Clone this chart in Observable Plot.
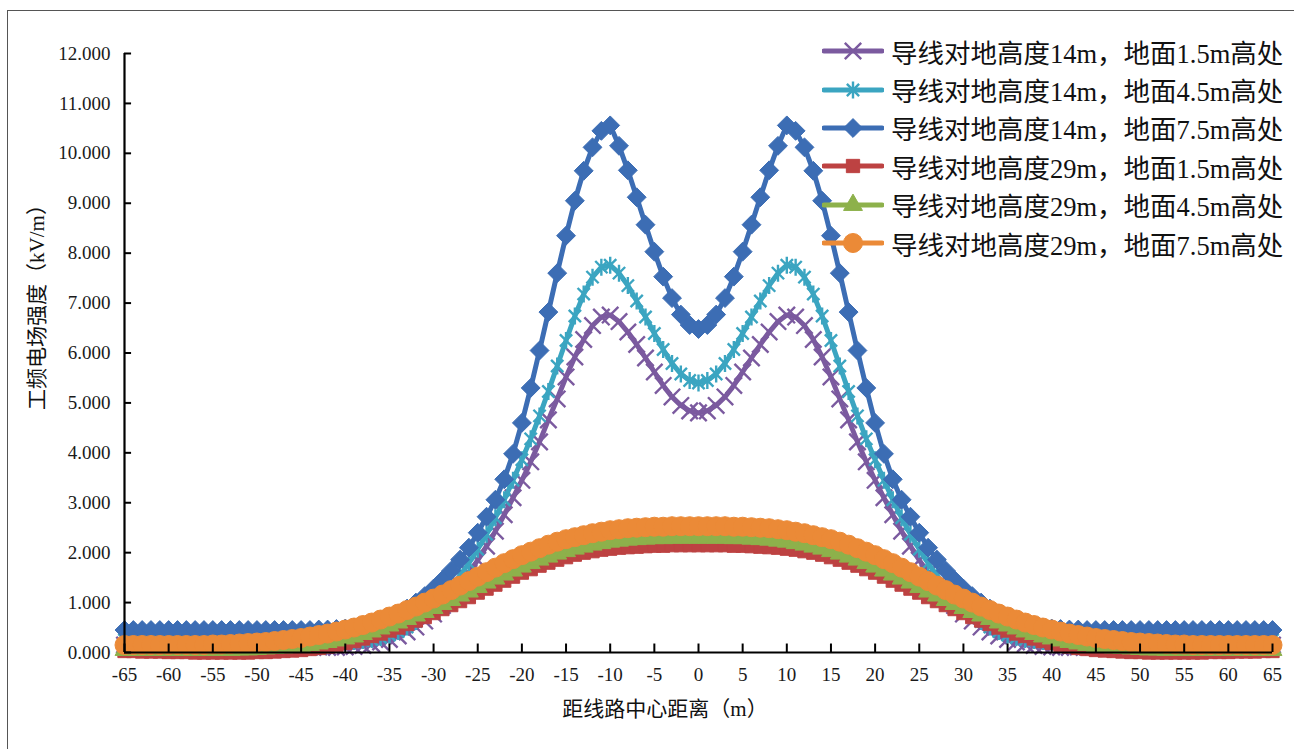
<!DOCTYPE html>
<html><head><meta charset="utf-8">
<script src="https://cdn.jsdelivr.net/npm/d3@7"></script>
<script src="https://cdn.jsdelivr.net/npm/@observablehq/plot@0.6"></script>
<style>
html,body{margin:0;padding:0;background:#fff;overflow:hidden}
#wrap{position:relative;width:1294px;height:749px;overflow:hidden}
#frame{position:absolute;left:7px;top:10px;width:1300px;height:760px;border-left:1.5px solid #555;border-top:1.5px solid #555}
#chart{position:absolute;left:0;top:0}
.ttl{position:absolute;font-family:"Liberation Serif","Noto Sans CJK SC",serif;font-size:21px;color:#111;white-space:nowrap;line-height:1}
#xt{left:665px;top:699px;transform:translateX(-50%)}
#yt{left:37px;top:302px;transform:translate(-50%,-50%) rotate(-90deg)}
#legend{position:absolute;left:822px;top:32px;font-family:"Liberation Serif","Noto Sans CJK SC",serif;font-size:26.5px;color:#111}
.row{height:38.4px;display:flex;align-items:center;white-space:nowrap}
.row svg{margin-right:7px;flex:none}
</style></head><body>
<div id="wrap"><div id="frame"></div><div id="chart"></div>
<div class="ttl" id="xt">距线路中心距离（m）</div>
<div class="ttl" id="yt">工频电场强度（kV/m）</div>
<div id="legend"></div></div>
<script>
// distance from line centre (m)
const xValues = d3.range(-65, 66);
const xTicks = [-65,-60,-55,-50,-45,-40,-35,-30,-25,-20,-15,-10,-5,0,5,10,15,20,25,30,35,40,45,50,55,60,65];
const yTicks = [0,1,2,3,4,5,6,7,8,9,10,11,12];
const seriesNames = [
  "导线对地高度14m，地面1.5m高处",
  "导线对地高度14m，地面4.5m高处",
  "导线对地高度14m，地面7.5m高处",
  "导线对地高度29m，地面1.5m高处",
  "导线对地高度29m，地面4.5m高处",
  "导线对地高度29m，地面7.5m高处"
];
// 14m, 1.5m
const h14_15 = [0.15,0.15,0.15,0.15,0.15,0.15,0.15,0.15,0.15,0.14,0.14,0.14,0.14,0.14,0.13,0.13,0.13,0.13,0.12,0.12,0.12,0.11,0.11,0.10,0.10,
0.11,0.12,0.14,0.17,0.21,0.26,0.33,0.41,0.51,0.63,0.77,0.94,1.13,1.35,1.59,1.85,2.13,2.43,2.76,3.10,3.45,3.82,4.22,4.66,5.08,5.52,5.92,6.27,6.55,6.72,6.76,6.63,6.42,6.17,5.90,5.62,5.35,5.12,4.95,4.84,
4.80,4.84,4.95,5.12,5.35,5.62,5.90,6.17,6.42,6.63,6.76,6.72,6.55,6.27,5.92,5.52,5.08,4.66,4.22,3.82,3.45,3.10,2.76,2.43,2.13,1.85,1.59,1.35,1.13,0.94,0.77,0.63,0.51,0.41,0.33,0.26,0.21,0.17,0.14,0.12,0.11,0.10,0.10,0.11,0.11,0.12,0.12,0.12,0.13,0.13,0.13,0.13,0.14,0.14,0.14,0.14,0.14,0.15,0.15,0.15,0.15,0.15,0.15,0.15,0.15,0.15];
// 14m, 4.5m
const h14_45 = [0.25,0.25,0.25,0.25,0.25,0.25,0.25,0.24,0.24,0.24,0.24,0.24,0.24,0.23,0.23,0.23,0.23,0.23,0.22,0.22,0.22,0.22,0.21,0.21,0.21,0.21,
0.22,0.24,0.26,0.30,0.35,0.42,0.51,0.62,0.76,0.92,1.10,1.31,1.54,1.79,2.07,2.37,2.70,3.06,3.45,3.86,4.28,4.74,5.23,5.74,6.25,6.74,7.18,7.52,7.72,7.76,7.60,7.35,7.04,6.72,6.39,6.07,5.79,5.58,5.45,
5.40,5.45,5.58,5.79,6.07,6.39,6.72,7.04,7.35,7.60,7.76,7.72,7.52,7.18,6.74,6.25,5.74,5.23,4.74,4.28,3.86,3.45,3.06,2.70,2.37,2.07,1.79,1.54,1.31,1.10,0.92,0.76,0.62,0.51,0.42,0.35,0.30,0.26,0.24,0.22,0.21,0.21,0.21,0.21,0.22,0.22,0.22,0.22,0.23,0.23,0.23,0.23,0.23,0.24,0.24,0.24,0.24,0.24,0.24,0.25,0.25,0.25,0.25,0.25,0.25,0.25];
// 14m, 7.5m
const h14_75 = [0.45,0.45,0.45,0.45,0.45,0.45,0.45,0.45,0.45,0.45,0.45,0.45,0.45,0.45,0.45,0.45,0.45,0.45,0.45,0.45,0.45,0.45,0.46,0.46,0.47,0.48,
0.50,0.53,0.58,0.63,0.70,0.78,0.88,1.00,1.13,1.28,1.45,1.64,1.86,2.10,2.40,2.72,3.06,3.47,3.98,4.60,5.30,6.05,6.82,7.60,8.35,9.05,9.65,10.12,10.45,10.56,10.15,9.66,9.12,8.57,8.03,7.53,7.10,6.77,6.56,
6.48,6.56,6.77,7.10,7.53,8.03,8.57,9.12,9.66,10.15,10.56,10.45,10.12,9.65,9.05,8.35,7.60,6.82,6.05,5.30,4.60,3.98,3.47,3.06,2.72,2.40,2.10,1.86,1.64,1.45,1.28,1.13,1.00,0.88,0.78,0.70,0.63,0.58,0.53,0.50,0.48,0.47,0.46,0.46,0.45,0.45,0.45,0.45,0.45,0.45,0.45,0.45,0.45,0.45,0.45,0.45,0.45,0.45,0.45,0.45,0.45,0.45,0.45,0.45,0.45,0.45];
// 29m, 1.5m
const h29_15 = [0.03,0.03,0.02,0.02,0.02,0.01,0.01,0.01,0.00,0.00,0.00,0.00,0.00,0.00,0.00,0.01,0.01,0.02,0.03,0.04,0.05,0.07,0.09,0.12,0.15,0.19,0.23,0.28,0.33,0.38,0.44,0.50,0.57,0.64,0.71,0.79,0.87,0.95,1.03,1.11,1.20,1.28,1.36,1.44,1.52,1.60,1.67,1.74,1.80,1.86,1.91,1.96,2.00,2.03,2.06,2.08,2.10,2.11,2.12,2.13,2.14,2.14,2.15,2.15,2.15,
2.15,2.15,2.15,2.15,2.14,2.14,2.13,2.12,2.11,2.10,2.08,2.06,2.03,2.00,1.96,1.91,1.86,1.80,1.74,1.67,1.60,1.52,1.44,1.36,1.28,1.20,1.11,1.03,0.95,0.87,0.79,0.71,0.64,0.57,0.50,0.44,0.38,0.33,0.28,0.23,0.19,0.15,0.12,0.09,0.07,0.05,0.04,0.03,0.02,0.01,0.01,0.00,0.00,0.00,0.00,0.00,0.00,0.00,0.01,0.01,0.01,0.02,0.02,0.02,0.03,0.03];
// 29m, 4.5m
const h29_45 = [0.05,0.05,0.05,0.05,0.05,0.05,0.05,0.05,0.05,0.05,0.05,0.05,0.05,0.06,0.06,0.07,0.08,0.09,0.10,0.11,0.13,0.15,0.18,0.21,0.24,0.28,0.32,0.37,0.42,0.48,0.54,0.60,0.67,0.74,0.81,0.89,0.97,1.05,1.14,1.22,1.31,1.40,1.48,1.56,1.64,1.72,1.79,1.86,1.92,1.98,2.03,2.08,2.12,2.16,2.19,2.22,2.24,2.26,2.27,2.28,2.29,2.29,2.30,2.30,2.30,
2.30,2.30,2.30,2.30,2.29,2.29,2.28,2.27,2.26,2.24,2.22,2.19,2.16,2.12,2.08,2.03,1.98,1.92,1.86,1.79,1.72,1.64,1.56,1.48,1.40,1.31,1.22,1.14,1.05,0.97,0.89,0.81,0.74,0.67,0.60,0.54,0.48,0.42,0.37,0.32,0.28,0.24,0.21,0.18,0.15,0.13,0.11,0.10,0.09,0.08,0.07,0.06,0.06,0.05,0.05,0.05,0.05,0.05,0.05,0.05,0.05,0.05,0.05,0.05,0.05,0.05];
// 29m, 7.5m
const h29_75 = [0.15,0.15,0.15,0.15,0.15,0.15,0.15,0.15,0.15,0.15,0.16,0.16,0.17,0.18,0.19,0.20,0.21,0.23,0.25,0.27,0.29,0.32,0.35,0.38,0.42,0.46,0.50,0.55,0.60,0.66,0.72,0.78,0.85,0.92,1.00,1.08,1.16,1.25,1.34,1.43,1.52,1.61,1.70,1.79,1.87,1.95,2.02,2.09,2.16,2.22,2.27,2.31,2.35,2.39,2.42,2.45,2.47,2.49,2.50,2.51,2.52,2.52,2.53,2.53,2.53,
2.53,2.53,2.53,2.53,2.52,2.52,2.51,2.50,2.49,2.47,2.45,2.42,2.39,2.35,2.31,2.27,2.22,2.16,2.09,2.02,1.95,1.87,1.79,1.70,1.61,1.52,1.43,1.34,1.25,1.16,1.08,1.00,0.92,0.85,0.78,0.72,0.66,0.60,0.55,0.50,0.46,0.42,0.38,0.35,0.32,0.29,0.27,0.25,0.23,0.21,0.20,0.19,0.18,0.17,0.16,0.16,0.15,0.15,0.15,0.15,0.15,0.15,0.15,0.15,0.15,0.15];

const seriesValues = [h14_15, h14_45, h14_75, h29_15, h29_45, h29_75];
const colors = ["#7b5a9f", "#3ba5c1", "#3c6db4", "#bd4242", "#8db14b", "#eb8a37"];

const asterisk6 = {draw(ctx, size) {
  const r = Math.sqrt(size / Math.PI), d = r * 0.72;
  ctx.moveTo(-d, -d); ctx.lineTo(d, d);
  ctx.moveTo(-d, d); ctx.lineTo(d, -d);
  ctx.moveTo(0, -r); ctx.lineTo(0, r);
}};
const symbols = [d3.symbolTimes, asterisk6, d3.symbolDiamond2, d3.symbolSquare, d3.symbolTriangle, d3.symbolCircle];
const radii = [7.5, 8.5, 8.5, 7.5, 7, 9.5];
const filled = [false, false, true, true, true, true];

const rows = xValues.map((x, i) => {
  const r = {x};
  seriesValues.forEach((s, k) => r["s" + k] = s[i]);
  return r;
});

const marks = [];
seriesValues.forEach((s, k) => {
  marks.push(Plot.line(rows, {x: "x", y: "s" + k, stroke: colors[k], strokeWidth: 5}));
  marks.push(Plot.dot(rows, {x: "x", y: "s" + k, symbol: symbols[k], r: radii[k],
    fill: filled[k] ? colors[k] : "none", stroke: colors[k], strokeWidth: filled[k] ? 1 : 2.4}));
});

const xMin = xValues[0], xMax = xValues[xValues.length - 1];
const chart = Plot.plot({
  width: 1294, height: 749,
  marginLeft: 124, marginRight: 22, marginTop: 53, marginBottom: 97,
  x: {domain: [xMin, xMax]},
  y: {domain: [0, 12]},
  style: {background: "transparent", fontFamily: "'Liberation Serif', serif", fontSize: "19px", color: "#1a1a1a"},
  marks: [
    ...marks,
    Plot.ruleX([xMin], {y1: 0, y2: 12, stroke: "#000", strokeWidth: 2.2}),
    Plot.ruleY([0], {x1: xMin, x2: xMax, stroke: "#000", strokeWidth: 2.2}),
    Plot.ruleY(yTicks, {x1: xMin, x2: xMin + 0.8, stroke: "#000", strokeWidth: 2}),
    Plot.ruleX(xTicks, {y1: 0, y2: 0.17, stroke: "#000", strokeWidth: 2}),
    Plot.axisY(yTicks, {tickSize: 0, tickPadding: 14, tickFormat: d => d.toFixed(3), label: null, fontSize: 19}),
    Plot.axisX(xTicks, {tickSize: 0, tickPadding: 15, tickFormat: d => String(d), label: null, fontSize: 19})
  ]
});
document.getElementById("chart").appendChild(chart);

// legend
const legend = d3.select("#legend");
seriesNames.forEach((name, k) => {
  const row = legend.append("div").attr("class", "row");
  const svg = row.append("svg").attr("width", 62).attr("height", 30);
  svg.append("line").attr("x1", 2).attr("x2", 60).attr("y1", 15).attr("y2", 15)
    .attr("stroke", colors[k]).attr("stroke-width", 5).attr("stroke-linecap", "round");
  svg.append("path").attr("transform", "translate(31,15)")
    .attr("d", d3.symbol().type(symbols[k]).size(Math.PI * radii[k] * radii[k])())
    .attr("fill", filled[k] ? colors[k] : "none").attr("stroke", colors[k]).attr("stroke-width", filled[k] ? 1 : 2.4);
  row.append("span").text(name);
});
</script>
</body></html>
